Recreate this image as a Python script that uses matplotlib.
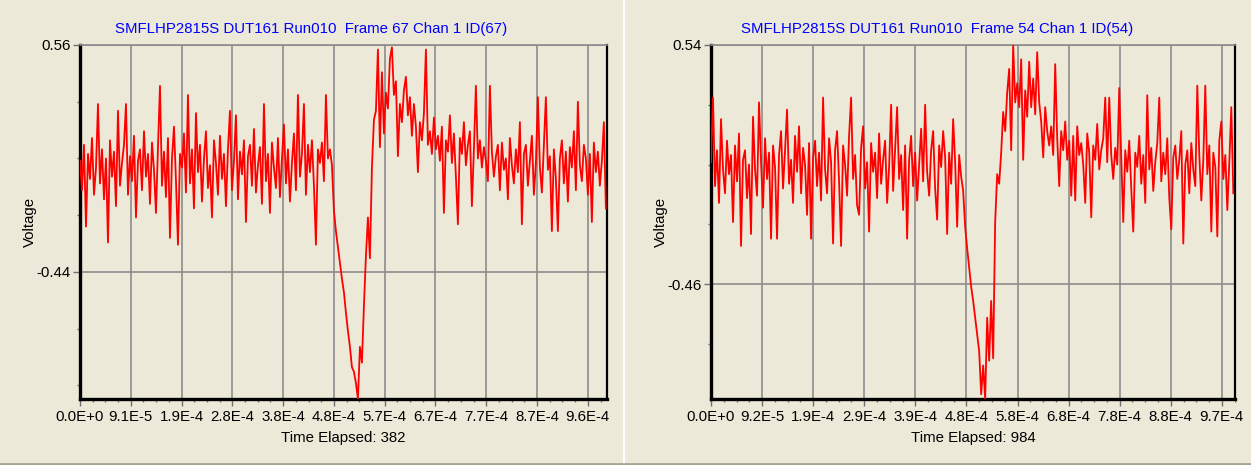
import numpy as np
import matplotlib
matplotlib.use("Agg")
import matplotlib.pyplot as plt
from matplotlib.ticker import FixedLocator, MultipleLocator
from matplotlib.lines import Line2D

plt.rcParams["font.family"] = ["Liberation Sans", "DejaVu Sans"]

BG = "#ECE9D8"

# --- left scope frame (Frame 67) ---
left_title = "SMFLHP2815S DUT161 Run010  Frame 67 Chan 1 ID(67)"
left_xlabel = "Time Elapsed: 382"
left_xticklabels = ["0.0E+0", "9.1E-5", "1.9E-4", "2.8E-4", "3.8E-4", "4.8E-4",
                    "5.7E-4", "6.7E-4", "7.7E-4", "8.7E-4", "9.6E-4"]
left_yticklabels = ["0.56", "-0.44"]
left_dt = 3.76e-6
left_volts = [
    0.05, -0.08, 0.12, -0.24, 0.08, -0.03, 0.15, -0.10, 0.02, 0.30,
    -0.05, 0.10, -0.12, 0.06, -0.31, 0.14, -0.02, 0.09, -0.15, 0.27,
    -0.06, 0.04, 0.12, 0.30, -0.10, 0.07, -0.04, 0.16, -0.20, 0.05,
    0.10, -0.08, 0.18, -0.02, 0.08, -0.14, 0.13, 0.01, -0.18, 0.11,
    0.38, -0.06, 0.09, -0.11, 0.15, -0.29, 0.06, 0.20, -0.04, -0.32,
    0.08, 0.02, 0.17, -0.09, 0.34, -0.05, 0.10, -0.16, 0.26, 0.00,
    0.12, -0.13, 0.06, 0.18, -0.07, 0.03, -0.20, 0.14, 0.04, -0.10,
    0.16, -0.03, 0.08, -0.15, 0.10, 0.27, -0.08, 0.05, 0.25, -0.12,
    0.09, -0.01, 0.14, -0.22, 0.07, 0.12, -0.06, 0.19, -0.09, 0.03,
    0.11, -0.14, 0.30, -0.04, 0.08, -0.18, 0.13, 0.02, -0.07, 0.15,
    -0.11, 0.06, 0.21, -0.05, 0.10, -0.13, 0.04, 0.17, -0.08, 0.34,
    -0.02, 0.08, 0.30, -0.10, 0.12, 0.00, 0.14, -0.06, -0.32, 0.10,
    0.04, 0.13, -0.04, 0.34, 0.06, 0.10,
    # dip
    0.03, -0.17, -0.26, -0.33, -0.40, -0.47, -0.53, -0.62, -0.70, -0.77,
    -0.86, -0.88, -0.93, -1.00, -0.77, -0.84, -0.59, -0.37, -0.20, -0.38,
    0.02, 0.23, 0.27, 0.54,
    # overshoot and recovery
    0.11, 0.44, 0.17, 0.35, 0.28, 0.50, 0.55, 0.34, 0.40, 0.07,
    0.30, 0.22, 0.36, 0.42, 0.25, 0.33, 0.16, 0.30, 0.20, 0.00,
    0.22, 0.14, 0.26, 0.54, 0.12, 0.18, 0.08, 0.24, 0.10, 0.16,
    0.05, 0.20, -0.18, 0.14, 0.09, 0.25, 0.04, 0.17, -0.02, -0.23,
    0.15, 0.08, 0.22, 0.03, 0.12, 0.18, -0.15, 0.10, 0.38, 0.06,
    0.14, 0.02, 0.11, 0.05, -0.04, 0.38, 0.09, -0.02, 0.07, 0.12,
    -0.08, 0.13, 0.01, 0.06, -0.12, 0.15, 0.03, -0.05, 0.10, 0.00,
    0.22, -0.23, 0.08, 0.12, -0.06, 0.05, 0.16, -0.10, 0.04, 0.33,
    0.02, -0.09, 0.12, 0.33, 0.01, 0.07, -0.26, 0.10, -0.03, -0.26,
    0.06, 0.14, -0.05, 0.09, -0.13, 0.11, 0.02, 0.18, -0.08, 0.31,
    0.03, -0.04, 0.12, 0.06, -0.10, 0.08, -0.22, 0.13, 0.00, 0.09,
    -0.06, 0.05, 0.22, -0.16,
]

# --- right scope frame (Frame 54) ---
right_title = "SMFLHP2815S DUT161 Run010  Frame 54 Chan 1 ID(54)"
right_xlabel = "Time Elapsed: 984"
right_xticklabels = ["0.0E+0", "9.2E-5", "1.9E-4", "2.9E-4", "3.9E-4", "4.8E-4",
                     "5.8E-4", "6.8E-4", "7.8E-4", "8.8E-4", "9.7E-4"]
right_yticklabels = ["0.54", "-0.46"]
right_dt = 3.80e-6
right_volts = [
    0.05, 0.32, -0.05, 0.10, -0.12, 0.23, 0.02, -0.08, 0.14, 0.00,
    0.08, -0.20, 0.12, -0.03, 0.17, -0.30, 0.06, 0.10, -0.10, 0.04,
    -0.25, 0.24, 0.02, -0.09, 0.30, 0.05, -0.14, 0.15, -0.02, 0.09,
    -0.27, 0.12, 0.03, -0.27, 0.08, 0.18, -0.06, 0.10, 0.27, -0.04,
    0.06, -0.12, 0.16, 0.01, 0.20, -0.08, 0.11, 0.04, -0.17, 0.13,
    -0.27, 0.07, 0.14, -0.05, 0.09, -0.11, 0.32, 0.02, -0.08, 0.15,
    0.05, -0.29, 0.10, 0.18, -0.03, -0.30, 0.12, 0.04, -0.09, 0.16,
    0.32, -0.02, 0.08, -0.13, -0.17, 0.11, 0.20, -0.06, 0.05, -0.24,
    0.13, 0.01, 0.09, -0.10, 0.17, -0.04, 0.06, 0.14, -0.12, 0.03,
    0.29, -0.07, 0.11, 0.28, -0.02, 0.08, -0.15, 0.12, -0.27, 0.06,
    0.16, -0.05, 0.09, -0.11, 0.04, 0.19, -0.03, 0.29, 0.01, -0.09,
    0.10, 0.18, -0.06, -0.19, 0.12, 0.03, 0.18, 0.07, -0.25, 0.09,
    -0.04, 0.23, 0.05, -0.22, 0.08,
    # dip
    -0.01, -0.07, -0.22, -0.31, -0.39, -0.47, -0.53, -0.60, -0.67, -0.74,
    -0.92, -0.80, -0.94, -0.60, -0.78, -0.53, -0.77, -0.20, 0.00, -0.04,
    0.09, 0.26, 0.18, 0.34, 0.44, 0.10, 0.54, 0.30, 0.38, 0.28,
    0.48, 0.06, 0.35, 0.24, 0.47, 0.28, 0.40, 0.25, 0.51, 0.30,
    0.22, 0.07, 0.28, 0.18,
    # recovery
    0.12, 0.20, 0.08, 0.46, 0.15, -0.05, 0.18, 0.10, 0.22, 0.06, 0.14,
    -0.09, 0.16, -0.11, 0.20, 0.08, 0.13, 0.04, -0.12, 0.17, 0.09,
    -0.18, 0.12, 0.06, 0.21, 0.02, 0.10, 0.15, 0.32, 0.05, 0.32,
    0.08, -0.02, 0.11, 0.04, 0.36, 0.07, -0.20, 0.10, 0.01, 0.14,
    -0.06, -0.24, 0.09, 0.03, 0.16, -0.04, 0.08, -0.12, 0.33, 0.02,
    0.11, -0.07, 0.05, 0.13, 0.32, -0.03, 0.09, 0.00, 0.15, -0.10,
    -0.23, 0.07, 0.12, -0.02, 0.06, 0.18, -0.29, 0.04, 0.10, -0.08,
    0.13, 0.02, -0.05, 0.37, 0.08, -0.11, 0.06, 0.37, 0.00, 0.12,
    -0.24, 0.09, 0.03, -0.26, 0.14, 0.22, -0.02, 0.08, -0.15, 0.05,
    0.28, -0.08,
]

W, H = 1251, 465
fig = plt.figure(figsize=(W / 100, H / 100), dpi=100, facecolor=BG)


def draw_panel(rect, volts, dt, xstep, xmax, xticklabels, ytop, ybottom, yticklabels,
               title, xlabel, panel_cx):
    ax = fig.add_axes(rect, facecolor=BG)
    t = np.arange(len(volts)) * dt
    ax.plot(t, volts, color="#FF0000", lw=1.3, zorder=3)

    ax.set_xlim(0, xmax)
    ax.set_ylim(ybottom, ytop)
    ax.set_xticks(np.arange(len(xticklabels)) * xstep)
    ax.set_xticklabels(xticklabels)
    ax.xaxis.set_minor_locator(MultipleLocator(xstep / 4))
    ax.set_yticks([ytop, ytop - 1.0])
    ax.set_yticklabels(yticklabels)
    ax.yaxis.set_minor_locator(FixedLocator(ytop - 0.25 * np.arange(1, 7)))

    ax.tick_params(which="major", length=5, width=1, color="#707070",
                   labelsize=10.8, pad=2)
    ax.tick_params(which="minor", length=2.5, width=1, color="#707070")
    ax.tick_params(axis="x", which="major", pad=3)

    ax.set_axisbelow(True)
    ax.grid(which="major", color="#8C8C8C", lw=1.2)

    for side in ("left", "bottom"):
        ax.spines[side].set_color("black")
        ax.spines[side].set_linewidth(2.4)
    ax.spines["right"].set_color("black")
    ax.spines["right"].set_linewidth(1.6)
    ax.spines["top"].set_color("#8C8C8C")
    ax.spines["top"].set_linewidth(1.2)

    x0, y0, w, h = rect
    fig.text(panel_cx, 1 - 29 / H, title, ha="center", va="center",
             color="#0000FF", fontsize=10.8)
    fig.text(x0 + w / 2, 1 - 438 / H, xlabel, ha="center", va="center", fontsize=10.8)
    fig.text(x0 - 50 / W, y0 + h / 2, "Voltage", rotation=90,
             ha="center", va="center", fontsize=10.8)
    return ax


bottom = (H - 399) / H
height = 354 / H

draw_panel([80 / W, bottom, 527 / W, height], left_volts, left_dt, 9.55e-5, 9.91e-4,
           left_xticklabels, 0.56, -1.0, left_yticklabels,
           left_title, left_xlabel, 311.5 / W)
draw_panel([711 / W, bottom, 524 / W, height], right_volts, right_dt, 9.7e-5, 9.95e-4,
           right_xticklabels, 0.54, -0.94, right_yticklabels,
           right_title, right_xlabel, 937 / W)

# window frame lines between / under the two panels
fig.add_artist(Line2D([623.5 / W, 623.5 / W], [0, 1], color="white", lw=1.5))
fig.add_artist(Line2D([0, 1], [1.5 / H, 1.5 / H], color="#A8A597", lw=2))

fig.savefig("out.png", dpi=100, facecolor=BG)
